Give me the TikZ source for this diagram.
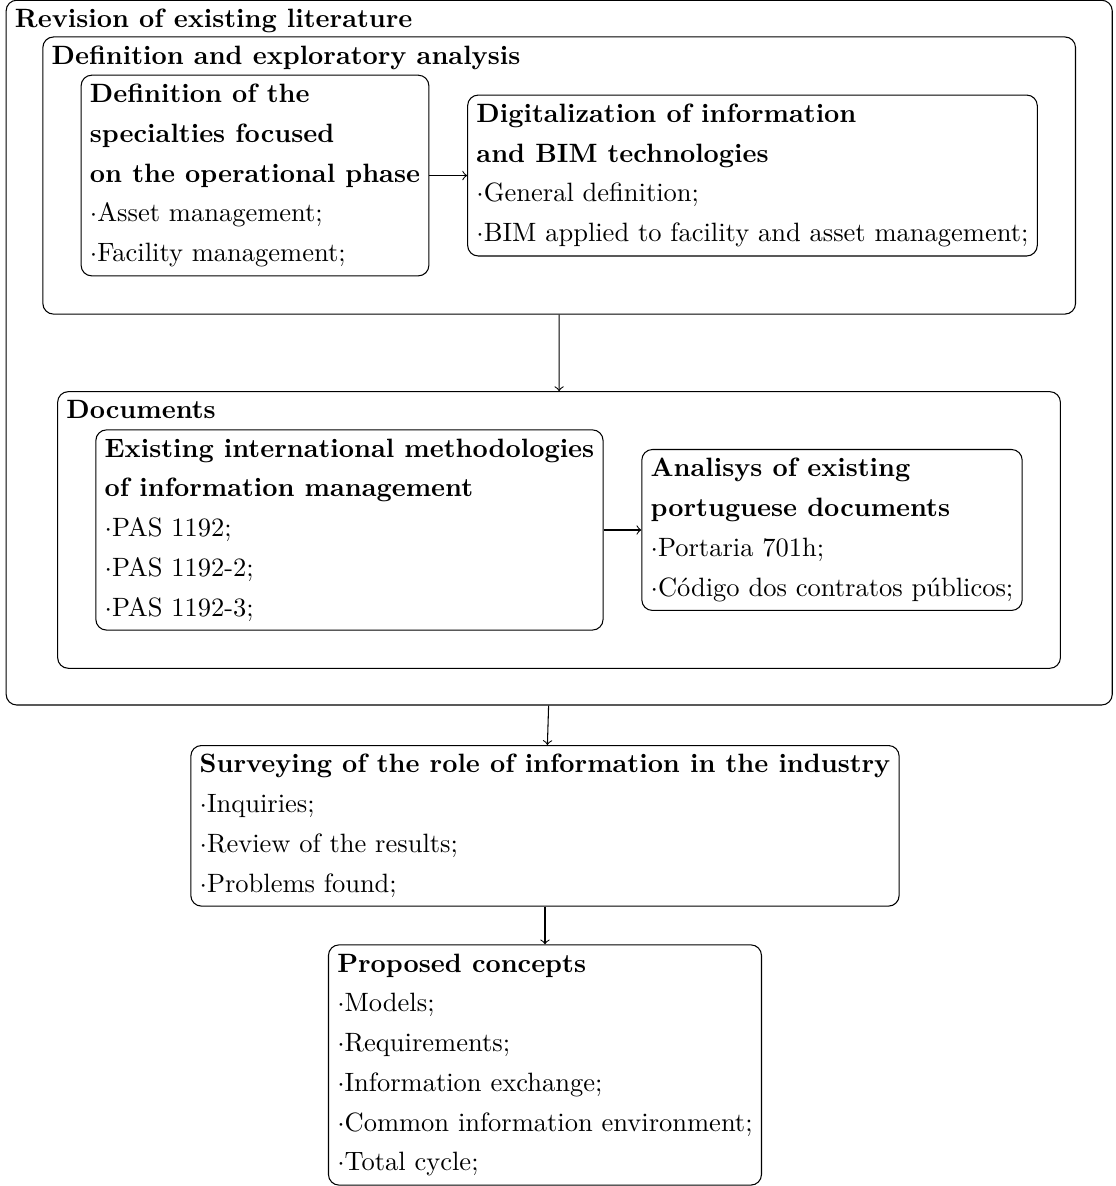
\documentclass[tikz,border=0pt]{standalone}
\usepackage{fontspec}
\usetikzlibrary{positioning,fit}

\tikzset{
  block/.style={draw, rounded corners, align=left, font=\fontsize{10pt}{15pt}\selectfont},
  group/.style={draw, rounded corners, inner sep=0.5cm},
  grouptitle/.style={anchor=north west, font=\bfseries},
}

\begin{document}
\begin{tikzpicture}
    \useasboundingbox (0,0) rectangle (14.80,-15.73);

    % definition and exploratory analysis
    \node[block] (specialties) at (3.382,-2.328)
      {\textbf{Definition of the}\\ \textbf{specialties focused}\\ \textbf{on the operational phase}\\ $\cdot$Asset management;\\ $\cdot$Facility management;};
    \node[block, right=0.5cm of specialties] (digital)
      {\textbf{Digitalization of information}\\ \textbf{and BIM technologies}\\ $\cdot$General definition;\\ $\cdot$BIM applied to facility and asset management;};
    \node[group, fit=(specialties)(digital)] (definition) {};
    \node[grouptitle] at (definition.north west) (definitiontitle) {Definition and exploratory analysis};

    % documents
    \node[block] (methods) at (4.635,-7.029)
      {\textbf{Existing international methodologies}\\ \textbf{of information management}\\ $\cdot$PAS 1192;\\ $\cdot$PAS 1192-2;\\ $\cdot$PAS 1192-3;};
    \node[block, right=0.5cm of methods] (portuguese)
      {\textbf{Analisys of existing}\\ \textbf{portuguese documents}\\ $\cdot$Portaria 701h;\\ $\cdot$Código dos contratos públicos;};
    \node[group, fit=(methods)(portuguese)] (documents) {};
    \node[grouptitle] at (documents.north west) (documentstitle) {Documents};

    % revision of existing literature
    \node[group, inner sep=0.48cm, fit=(definition)(documents)] (revision) {};
    \node[grouptitle] at (revision.north west) (revisiontitle) {Revision of existing literature};

    % survey and concepts
    \node[block, anchor=north] (survey) at (7.228,-9.881)
      {\textbf{Surveying of the role of information in the industry}\\ $\cdot$Inquiries;\\ $\cdot$Review of the results;\\ $\cdot$Problems found;};
    \node[block, below=0.5cm of survey] (concepts)
      {\textbf{Proposed concepts}\\ $\cdot$Models;\\ $\cdot$Requirements;\\ $\cdot$Information exchange;\\ $\cdot$Common information environment;\\ $\cdot$Total cycle;};

    \draw[->] (specialties) -- (digital);
    \draw[->] (methods) -- (portuguese);
    \draw[->] (definition) -- (documents);
    \draw[->] (revision) -- (survey);
    \draw[->] (survey) -- (concepts);
\end{tikzpicture}
\end{document}
